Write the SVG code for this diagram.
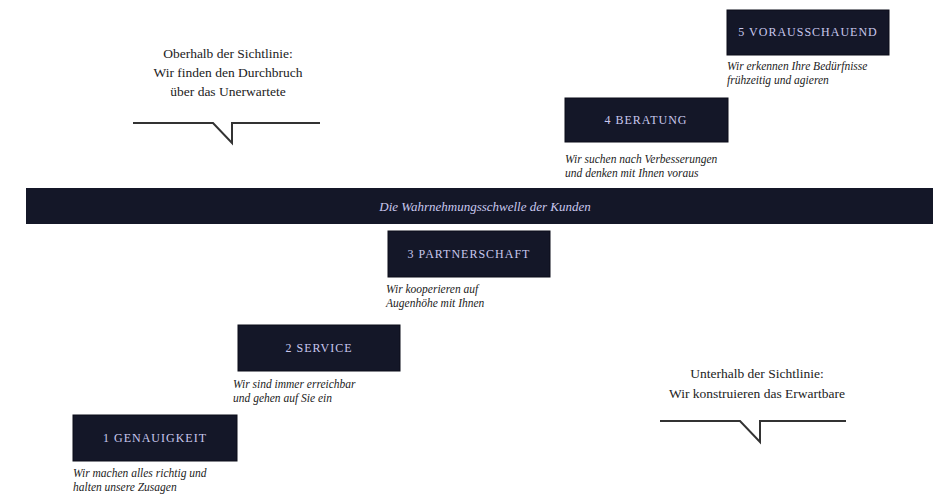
<svg xmlns="http://www.w3.org/2000/svg" width="933" height="498" viewBox="0 0 933 498">
<style>
.box{fill:#141728;stroke:#0b0d18;stroke-width:1}
.boxt{font-family:"Liberation Serif",serif;font-size:12px;fill:#c9c8ee;letter-spacing:1px;text-anchor:middle}
.cap{font-family:"Liberation Serif",serif;font-size:11.5px;font-style:italic;fill:#222}
.call{font-family:"Liberation Serif",serif;font-size:13.5px;fill:#222;text-anchor:middle}
.bart{font-family:"Liberation Serif",serif;font-size:13px;font-style:italic;fill:#c9c8ee;text-anchor:middle}
.ln{fill:none;stroke:#333;stroke-width:2}
</style>
<rect width="933" height="498" fill="#ffffff"/>
<g id="bar">
<rect x="26" y="188" width="907" height="36" fill="#141728"/>
<text class="bart" x="485" y="211">Die Wahrnehmungsschwelle der Kunden</text>
</g>
<g id="step1">
<rect class="box" x="73" y="415" width="164" height="46"/>
<text class="boxt" x="155" y="442">1 GENAUIGKEIT</text>
<text class="cap" x="73" y="477">Wir machen alles richtig und</text>
<text class="cap" x="73" y="491">halten unsere Zusagen</text>
</g>
<g id="step2">
<rect class="box" x="238" y="325" width="162" height="46"/>
<text class="boxt" x="319" y="352">2 SERVICE</text>
<text class="cap" x="233" y="388">Wir sind immer erreichbar</text>
<text class="cap" x="233" y="402">und gehen auf Sie ein</text>
</g>
<g id="step3">
<rect class="box" x="388" y="231" width="162" height="46"/>
<text class="boxt" x="469" y="258">3 PARTNERSCHAFT</text>
<text class="cap" x="386" y="293">Wir kooperieren auf</text>
<text class="cap" x="386" y="307">Augenhöhe mit Ihnen</text>
</g>
<g id="step4">
<rect class="box" x="565" y="98" width="163" height="44"/>
<text class="boxt" x="646" y="124">4 BERATUNG</text>
<text class="cap" x="565" y="163">Wir suchen nach Verbesserungen</text>
<text class="cap" x="565" y="177">und denken mit Ihnen voraus</text>
</g>
<g id="step5">
<rect class="box" x="727" y="10" width="162" height="45"/>
<text class="boxt" x="808" y="36">5 VORAUSSCHAUEND</text>
<text class="cap" x="727" y="70">Wir erkennen Ihre Bedürfnisse</text>
<text class="cap" x="727" y="84">frühzeitig und agieren</text>
</g>
<g id="callout-top">
<text class="call" x="228" y="58">Oberhalb der Sichtlinie:</text>
<text class="call" x="228" y="77">Wir finden den Durchbruch</text>
<text class="call" x="228" y="96">über das Unerwartete</text>
<path class="ln" d="M133,123 H213 L232,143 V123 H320"/>
</g>
<g id="callout-bottom">
<text class="call" x="757" y="378">Unterhalb der Sichtlinie:</text>
<text class="call" x="757" y="398">Wir konstruieren das Erwartbare</text>
<path class="ln" d="M660,421 H740 L760,442 V421 H846"/>
</g>
</svg>
